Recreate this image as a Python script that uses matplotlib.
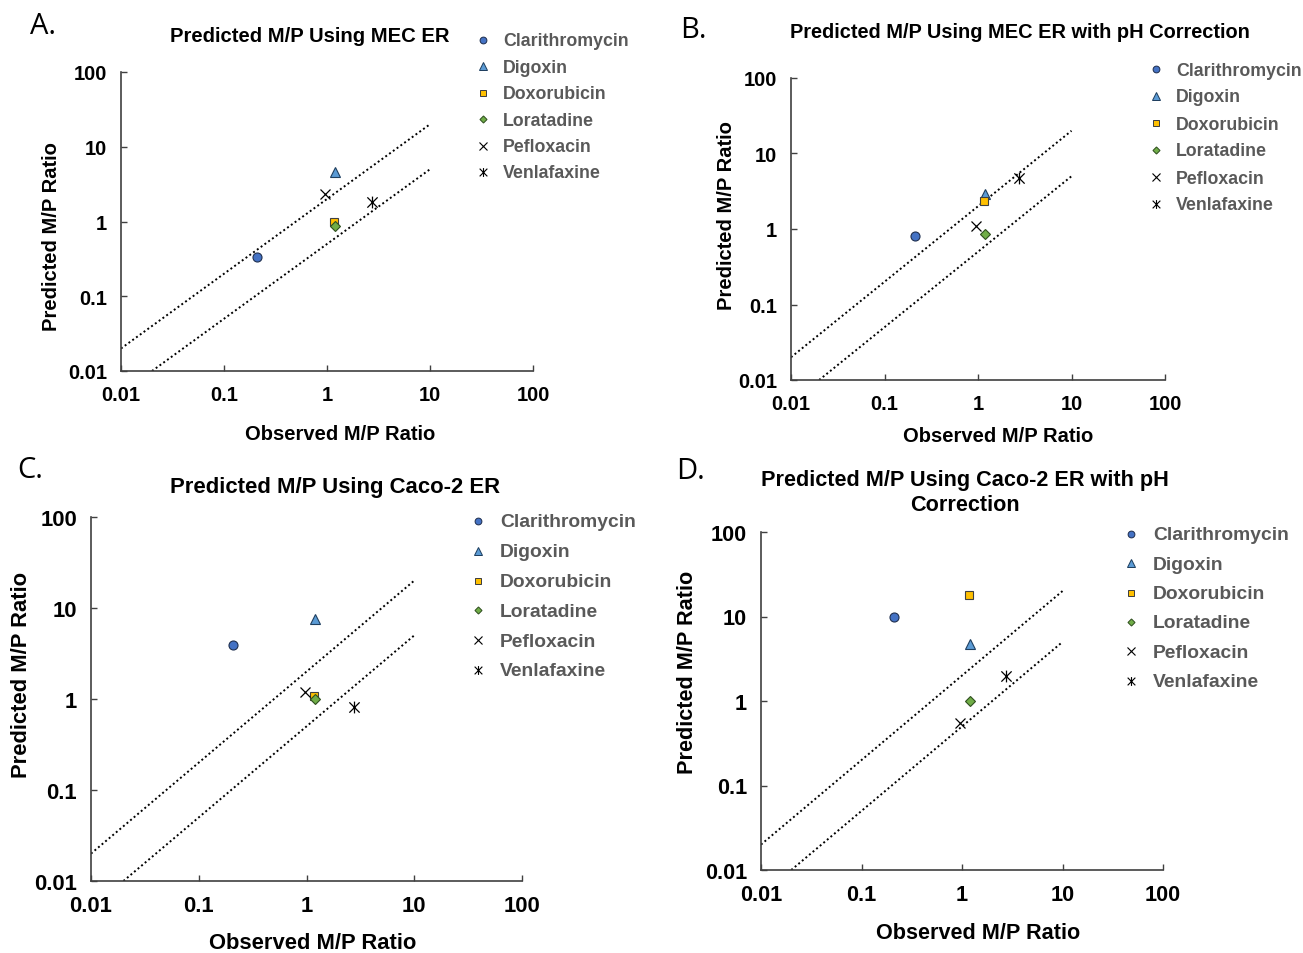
import matplotlib
matplotlib.use("Agg")
import matplotlib.pyplot as plt
from matplotlib.lines import Line2D
from matplotlib.path import Path
import numpy as np

W, H = 1303, 954
DPI = 100

drugs = ["Clarithromycin", "Digoxin", "Doxorubicin", "Loratadine", "Pefloxacin", "Venlafaxine"]
observed = [0.21, 1.2, 1.17, 1.2, 0.96, 2.75]
pred_mec = [0.33, 4.6, 1.0, 0.86, 2.3, 1.85]
pred_mec_ph = [0.81, 2.9, 2.35, 0.86, 1.1, 4.7]
pred_caco = [3.9, 7.6, 1.07, 1.0, 1.19, 0.81]
pred_caco_ph = [9.8, 4.7, 18.0, 1.0, 0.55, 2.0]
tick_vals = [0.01, 0.1, 1, 10, 100]
tick_labels = ["0.01", "0.1", "1", "10", "100"]

star = Path([(-1, -1), (1, 1), (-1, 1), (1, -1), (0, -1.15), (0, 1.15)],
            [Path.MOVETO, Path.LINETO, Path.MOVETO, Path.LINETO, Path.MOVETO, Path.LINETO])

styles = {
    "Clarithromycin": dict(marker="o", mfc="#4472C4", mec="#1F2F4F", ms=6.5, mew=0.8),
    "Digoxin": dict(marker="^", mfc="#5B9BD5", mec="#1F3F5F", ms=7, mew=0.8),
    "Doxorubicin": dict(marker="s", mfc="#FFC000", mec="#404040", ms=6.3, mew=0.8),
    "Loratadine": dict(marker="D", mfc="#70AD47", mec="#2F4F1F", ms=4.8, mew=0.8),
    "Pefloxacin": dict(marker="x", mfc="none", mec="#000000", ms=7, mew=0.9),
    "Venlafaxine": dict(marker=star, mfc="none", mec="#000000", ms=8.5, mew=0.9),
}

plt.rcParams["font.family"] = ["Liberation Sans", "DejaVu Sans"]

fig = plt.figure(figsize=(W / DPI, H / DPI), dpi=DPI)


def fx(px):
    return px / W


def fy(py):
    return 1 - py / H


panels = [
    dict(box=(121, 533, 73, 372), pred=pred_mec, title="Predicted M/P Using MEC ER",
         title_xy=(310, 37), xl=(340, 434), yl=(52, 237),
         leg=(483, 503, 42, 26.4), lfs=12.8, letter="A.", let_xy=(30, 27),
         fs=14.5, tfs=14.6),
    dict(box=(791, 1165, 79, 381), pred=pred_mec_ph,
         title="Predicted M/P Using MEC ER with pH Correction",
         title_xy=(1020, 32), xl=(998, 436), yl=(727, 216),
         leg=(1156, 1176, 71, 27.0), lfs=12.8, letter="B.", let_xy=(680, 30),
         fs=14.5, tfs=14.4),
    dict(box=(91, 522, 518, 882), pred=pred_caco, title="Predicted M/P Using Caco-2 ER",
         title_xy=(335, 488), xl=(313, 944), yl=(22, 675),
         leg=(478, 500, 523, 29.8), lfs=13.9, letter="C.", let_xy=(17, 470),
         fs=15.8, tfs=15.9),
    dict(box=(761, 1163, 533, 871), pred=pred_caco_ph,
         title="Predicted M/P Using Caco-2 ER with pH\nCorrection",
         title_xy=(965, 493), xl=(978, 934), yl=(688, 672),
         leg=(1131, 1153, 536, 29.3), lfs=13.9, letter="D.", let_xy=(676, 472),
         fs=15.6, tfs=15.6),
]

for p in panels:
    L, R, T, B = p["box"]
    ax = fig.add_axes([fx(L), fy(B), (R - L) / W, (B - T) / H])
    ax.set_xscale("log")
    ax.set_yscale("log")
    ax.set_xlim(0.01, 100)
    ax.set_ylim(0.01, 100)
    for s in ["top", "right"]:
        ax.spines[s].set_visible(False)
    for s in ["left", "bottom"]:
        ax.spines[s].set_color("#404040")
        ax.spines[s].set_linewidth(1.2)
    ax.set_xticks(tick_vals)
    ax.set_xticklabels(tick_labels)
    ax.set_yticks(tick_vals)
    ax.set_yticklabels(tick_labels)
    ax.minorticks_off()
    ax.tick_params(direction="in", length=4, width=1.0, color="#404040",
                   labelsize=p["fs"], pad=10)
    for lab in ax.get_xticklabels() + ax.get_yticklabels():
        lab.set_fontweight("bold")

    # reference lines (2-fold)
    xu = np.array([0.01, 10])
    ax.plot(xu, 2 * xu, color="black", lw=1.4, ls=(0, (1, 1.4)))
    xl_ = np.array([0.02, 10])
    ax.plot(xl_, 0.5 * xl_, color="black", lw=1.4, ls=(0, (1, 1.4)))

    for d, xo, yp in zip(drugs, observed, p["pred"]):
        st = styles[d]
        ax.plot([xo], [yp], ls="none", marker=st["marker"], markerfacecolor=st["mfc"],
                markeredgecolor=st["mec"], markersize=st["ms"], markeredgewidth=st["mew"],
                zorder=3)

    # axis labels
    ax.set_xlabel("Observed M/P Ratio", fontsize=p["fs"], fontweight="bold", va="center")
    ax.xaxis.set_label_coords((p["xl"][0] - L) / (R - L), (B - p["xl"][1]) / (B - T))
    ax.set_ylabel("Predicted M/P Ratio", fontsize=p["fs"], fontweight="bold", va="center")
    ax.yaxis.set_label_coords((p["yl"][0] - L) / (R - L), (B - p["yl"][1]) / (B - T))

    # title
    fig.text(fx(p["title_xy"][0]), fy(p["title_xy"][1]), p["title"], ha="center",
             va="center", fontsize=p["tfs"], fontweight="bold", linespacing=1.3)

    # panel letter
    fig.text(fx(p["let_xy"][0]), fy(p["let_xy"][1]), p["letter"], ha="left", va="center",
             fontsize=21, family=["Open Sans", "DejaVu Sans"])

    # legend
    mx, tx, y0, dy = p["leg"]
    for i, d in enumerate(drugs):
        st = styles[d]
        yy = y0 + i * dy
        fig.add_artist(Line2D([fx(mx)], [fy(yy - 1)], transform=fig.transFigure, ls="none",
                              marker=st["marker"], markerfacecolor=st["mfc"],
                              markeredgecolor=st["mec"], markersize=st["ms"] * 0.75,
                              markeredgewidth=st["mew"] * 0.9))
        fig.text(fx(tx), fy(yy), d, ha="left", va="center", fontsize=p["lfs"],
                 fontweight="bold", color="#595959")

fig.savefig("out.png", dpi=DPI)
